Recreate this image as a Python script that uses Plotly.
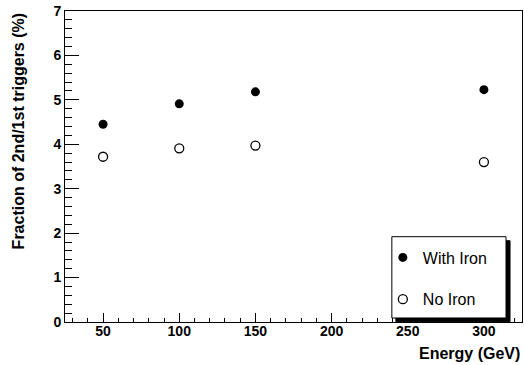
import plotly.graph_objects as go

energy = [50, 100, 150, 300]
with_iron = [4.45, 4.91, 5.18, 5.23]
no_iron = [3.72, 3.91, 3.97, 3.60]

FONT = "Liberation Sans, Arial, Helvetica, sans-serif"

fig = go.Figure()
fig.add_trace(go.Scatter(
    x=energy, y=with_iron, mode="markers", name="With Iron",
    legendgroup="a",
    marker=dict(symbol="circle", size=9, color="black", line=dict(width=0)),
))
fig.add_trace(go.Scatter(
    x=energy, y=no_iron, mode="markers", name="No Iron",
    legendgroup="b",
    marker=dict(symbol="circle-open", size=9, color="black", line=dict(width=1.3)),
))

axis_common = dict(
    showgrid=False, zeroline=False, showline=True, linecolor="black",
    linewidth=1, mirror=True, ticks="inside", tickcolor="black", tickwidth=1,
    tickfont=dict(family=FONT, size=14, color="black", weight="bold"),
)

fig.update_xaxes(
    range=[25, 325], tick0=0, dtick=50, ticklen=9,
    minor=dict(dtick=10, tick0=0, ticklen=4.5, ticks="inside", tickcolor="black", tickwidth=1),
    **axis_common,
)
fig.update_yaxes(
    range=[0, 7], tick0=0, dtick=1, ticklen=14,
    minor=dict(dtick=0.2, tick0=0, ticklen=7, ticks="inside", tickcolor="black", tickwidth=1),
    **axis_common,
)
try:
    fig.update_xaxes(ticklabelstandoff=-4)
except Exception:
    pass

# legend shadow and box (ROOT-style)
fig.add_shape(type="rect", xref="paper", yref="paper",
              x0=0.724, x1=0.9738, y0=0.001, y1=0.2614,
              fillcolor="black", line=dict(width=1, color="black"), layer="above")
fig.add_shape(type="rect", xref="paper", yref="paper",
              x0=0.7152, x1=0.965, y0=0.0129, y1=0.2743,
              fillcolor="white", line=dict(width=1, color="black"), layer="above")

fig.update_layout(
    width=524, height=365,
    margin=dict(l=64.5, r=2, t=11, b=43),
    paper_bgcolor="white", plot_bgcolor="white",
    showlegend=True,
    legend=dict(
        x=0.6955, y=0.262, xanchor="left", yanchor="top",
        bgcolor="rgba(0,0,0,0)", borderwidth=0,
        font=dict(family=FONT, size=16, color="black"),
        tracegroupgap=18,
    ),
    annotations=[
        dict(text="<b>Energy (GeV)</b>", xref="paper", yref="paper",
             x=1.0, y=-0.10, xanchor="right", yanchor="middle", showarrow=False,
             font=dict(family=FONT, size=16, color="black")),
        dict(text="<b>Fraction of 2nd/1st triggers (%)</b>", xref="paper", yref="paper",
             x=-0.102, y=1.0, xanchor="center", yanchor="top", showarrow=False,
             textangle=-90,
             font=dict(family=FONT, size=16, color="black")),
    ],
)

fig.write_html("out.html", config={"displayModeBar": False},
               post_script="document.body.style.margin='0';")
